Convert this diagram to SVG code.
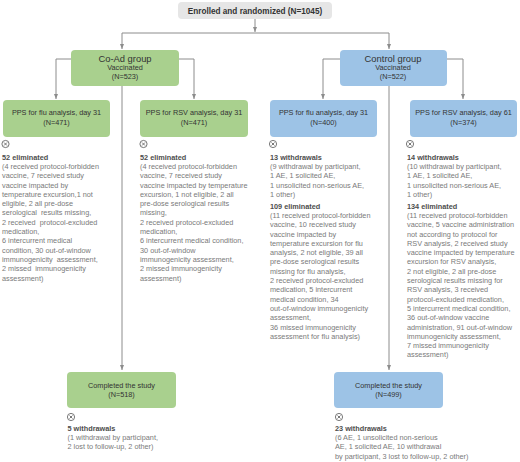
<svg xmlns="http://www.w3.org/2000/svg" width="520" height="462" viewBox="0 0 520 462">
<style>
text{font-family:"Liberation Sans",Arial,sans-serif}
.ln{fill:none;stroke:#8c8c8c;stroke-width:1}
.green{fill:#a9d08e}
.blue{fill:#9dc3e6}
.bt{font-size:7.3px;fill:#333;text-anchor:middle}
.hd{font-size:7.3px;fill:#4d4d4d;font-weight:bold}
.tx{font-size:7.3px;fill:#7a7a7a}
.ic circle{fill:none;stroke:#555;stroke-width:0.8}
.ic path{stroke:#555;stroke-width:0.8}
</style>
<defs>
<marker id="ah" markerWidth="5" markerHeight="5" refX="5" refY="2.5" orient="auto" markerUnits="userSpaceOnUse">
<path d="M0,0.5 L5,2.5 L0,4.5 z" fill="#8c8c8c"/>
</marker>
<g id="xicon" class="ic"><circle cx="0" cy="0" r="3.6"/><path d="M-1.5,-1.5 L1.5,1.5 M1.5,-1.5 L-1.5,1.5"/></g>
</defs>
<g id="connectors">
<path class="ln" d="M255,19 V32" marker-end="url(#ah)"/>
<path class="ln" d="M122,33 H389"/>
<path class="ln" d="M122,33 V49" marker-end="url(#ah)"/>
<path class="ln" d="M389,33 V49" marker-end="url(#ah)"/>
<path class="ln" d="M71,59 H56 V99" marker-end="url(#ah)"/>
<path class="ln" d="M179,59 H194 V99" marker-end="url(#ah)"/>
<path class="ln" d="M340,59 H323 V99" marker-end="url(#ah)"/>
<path class="ln" d="M447,59 H463 V99" marker-end="url(#ah)"/>
<path class="ln" d="M122,86 V370" marker-end="url(#ah)"/>
<path class="ln" d="M389,86 V370" marker-end="url(#ah)"/>
</g>
<g id="enrolled">
<rect x="178" y="2" width="154" height="17" rx="4" fill="#e6e6e6"/>
<text x="255" y="14" text-anchor="middle" font-size="8.2" font-weight="bold" fill="#333">Enrolled and randomized (N=1045)</text>
</g>
<g id="coad">
<rect class="green" x="71" y="50" width="108" height="36" rx="4"/>
<text x="125" y="62" text-anchor="middle" font-size="9.4" fill="#333">Co-Ad group</text>
<text x="125" y="70.4" text-anchor="middle" font-size="7.3" fill="#333">Vaccinated</text>
<text x="125" y="79" text-anchor="middle" font-size="7.3" fill="#333">(N=523)</text>
</g>
<g id="control">
<rect class="blue" x="340" y="50" width="107" height="36" rx="4"/>
<text x="393" y="62" text-anchor="middle" font-size="9.4" fill="#333">Control group</text>
<text x="393" y="70.4" text-anchor="middle" font-size="7.3" fill="#333">Vaccinated</text>
<text x="393" y="79" text-anchor="middle" font-size="7.3" fill="#333">(N=522)</text>
</g>
<g id="coad-flu">
<rect class="green" x="3" y="100" width="107" height="37" rx="4"/>
<text class="bt" x="56.5" y="115">PPS for flu analysis, day 31</text>
<text class="bt" x="56.5" y="124.5">(N=471)</text>
<use href="#xicon" x="5.5" y="144"/>
<text class="hd" x="2" y="159.6">52 eliminated</text>
<text class="tx" x="2" y="168.9" style="white-space:pre">(4 received protocol-forbidden
<tspan x="2" y="178.2">vaccine, 7 received study</tspan>
<tspan x="2" y="187.5">vaccine impacted by</tspan>
<tspan x="2" y="196.8">temperature excursion,1 not</tspan>
<tspan x="2" y="206.1">eligible, 2 all pre-dose</tspan>
<tspan x="2" y="215.4">serological  results missing,</tspan>
<tspan x="2" y="224.7">2 received  protocol-excluded</tspan>
<tspan x="2" y="234">medication,</tspan>
<tspan x="2" y="243.3">6 intercurrent medical</tspan>
<tspan x="2" y="252.6">condition, 30 out-of-window</tspan>
<tspan x="2" y="261.9">immunogenicity  assessment,</tspan>
<tspan x="2" y="271.2">2 missed  immunogenicity</tspan>
<tspan x="2" y="280.5">assessment)</tspan></text>
</g>
<g id="coad-rsv">
<rect class="green" x="140" y="100" width="108" height="37" rx="4"/>
<text class="bt" x="194" y="115">PPS for RSV analysis, day 31</text>
<text class="bt" x="194" y="124.5">(N=471)</text>
<use href="#xicon" x="143.5" y="144"/>
<text class="hd" x="140" y="159.6">52 eliminated</text>
<text class="tx" x="140" y="168.9">(4 received protocol-forbidden
<tspan x="140" y="178.2">vaccine, 7 received study</tspan>
<tspan x="140" y="187.5">vaccine impacted by temperature</tspan>
<tspan x="140" y="196.8">excursion, 1 not eligible, 2 all</tspan>
<tspan x="140" y="206.1">pre-dose serological results</tspan>
<tspan x="140" y="215.4">missing,</tspan>
<tspan x="140" y="224.7">2 received protocol-excluded</tspan>
<tspan x="140" y="234">medication,</tspan>
<tspan x="140" y="243.3">6 intercurrent medical condition,</tspan>
<tspan x="140" y="252.6">30 out-of-window</tspan>
<tspan x="140" y="261.9">immunogenicity assessment,</tspan>
<tspan x="140" y="271.2">2 missed immunogenicity</tspan>
<tspan x="140" y="280.5">assessment)</tspan></text>
</g>
<g id="control-flu">
<rect class="blue" x="270" y="100" width="107" height="37" rx="4"/>
<text class="bt" x="323.5" y="115">PPS for flu analysis, day 31</text>
<text class="bt" x="323.5" y="124.5">(N=400)</text>
<use href="#xicon" x="273" y="144"/>
<text class="hd" x="270" y="159.6">13 withdrawals</text>
<text class="tx" x="270" y="168.9">(9 withdrawal by participant,
<tspan x="270" y="178.2">1 AE, 1 solicited AE,</tspan>
<tspan x="270" y="187.5">1 unsolicited non-serious AE,</tspan>
<tspan x="270" y="196.8">1 other)</tspan></text>
<text class="hd" x="270" y="208.6">109 eliminated</text>
<text class="tx" x="270" y="217.9">(11 received protocol-forbidden
<tspan x="270" y="227.2">vaccine, 10 received study</tspan>
<tspan x="270" y="236.5">vaccine impacted by</tspan>
<tspan x="270" y="245.8">temperature excursion for flu</tspan>
<tspan x="270" y="255.1">analysis, 2 not eligible, 39 all</tspan>
<tspan x="270" y="264.4">pre-dose serological results</tspan>
<tspan x="270" y="273.7">missing for flu analysis,</tspan>
<tspan x="270" y="283">2 received protocol-excluded</tspan>
<tspan x="270" y="292.3">medication, 5 intercurrent</tspan>
<tspan x="270" y="301.6">medical condition, 34</tspan>
<tspan x="270" y="310.9">out-of-window immunogenicity</tspan>
<tspan x="270" y="320.2">assessment,</tspan>
<tspan x="270" y="329.5">36 missed immunogenicity</tspan>
<tspan x="270" y="338.8">assessment for flu analysis)</tspan></text>
</g>
<g id="control-rsv">
<rect class="blue" x="410" y="100" width="107" height="37" rx="4"/>
<text class="bt" x="463.5" y="115">PPS for RSV analysis, day 61</text>
<text class="bt" x="463.5" y="124.5">(N=374)</text>
<use href="#xicon" x="410" y="144"/>
<text class="hd" x="407" y="159.6">14 withdrawals</text>
<text class="tx" x="407" y="168.9">(10 withdrawal by participant,
<tspan x="407" y="178.2">1 AE, 1 solicited AE,</tspan>
<tspan x="407" y="187.5">1 unsolicited non-serious AE,</tspan>
<tspan x="407" y="196.8">1 other)</tspan></text>
<text class="hd" x="407" y="208.6">134 eliminated</text>
<text class="tx" x="407" y="217.9">(11 received protocol-forbidden
<tspan x="407" y="227.2">vaccine, 5 vaccine administration</tspan>
<tspan x="407" y="236.5">not according to protocol for</tspan>
<tspan x="407" y="245.8">RSV analysis, 2 received study</tspan>
<tspan x="407" y="255.1">vaccine impacted by temperature</tspan>
<tspan x="407" y="264.4">excursion for RSV analysis,</tspan>
<tspan x="407" y="273.7">2 not eligible, 2 all pre-dose</tspan>
<tspan x="407" y="283">serological results missing for</tspan>
<tspan x="407" y="292.3">RSV analysis, 3 received</tspan>
<tspan x="407" y="301.6">protocol-excluded medication,</tspan>
<tspan x="407" y="310.9">5 intercurrent medical condition,</tspan>
<tspan x="407" y="320.2">36 out-of-window vaccine</tspan>
<tspan x="407" y="329.5">administration, 91 out-of-window</tspan>
<tspan x="407" y="338.8">immunogenicity assessment,</tspan>
<tspan x="407" y="348.1">7 missed immunogenicity</tspan>
<tspan x="407" y="357.4">assessment)</tspan></text>
</g>
<g id="coad-completed">
<rect class="green" x="67" y="372" width="109" height="36" rx="4"/>
<text class="bt" x="121.5" y="388.3">Completed the study</text>
<text class="bt" x="121.5" y="397">(N=518)</text>
<use href="#xicon" x="71" y="417"/>
<text class="hd" x="67.5" y="430.6">5 withdrawals</text>
<text class="tx" x="67.5" y="439.9">(1 withdrawal by participant,
<tspan x="67.5" y="449.2">2 lost to follow-up, 2 other)</tspan></text>
</g>
<g id="control-completed">
<rect class="blue" x="334" y="372" width="109" height="36" rx="4"/>
<text class="bt" x="388.5" y="388.3">Completed the study</text>
<text class="bt" x="388.5" y="397">(N=499)</text>
<use href="#xicon" x="339" y="417"/>
<text class="hd" x="335" y="430.6">23 withdrawals</text>
<text class="tx" x="335" y="439.9">(6 AE, 1 unsolicited non-serious
<tspan x="335" y="449.2">AE, 1 solicited AE, 10 withdrawal</tspan>
<tspan x="335" y="458.5">by participant, 3 lost to follow-up, 2 other)</tspan></text>
</g>
</svg>
